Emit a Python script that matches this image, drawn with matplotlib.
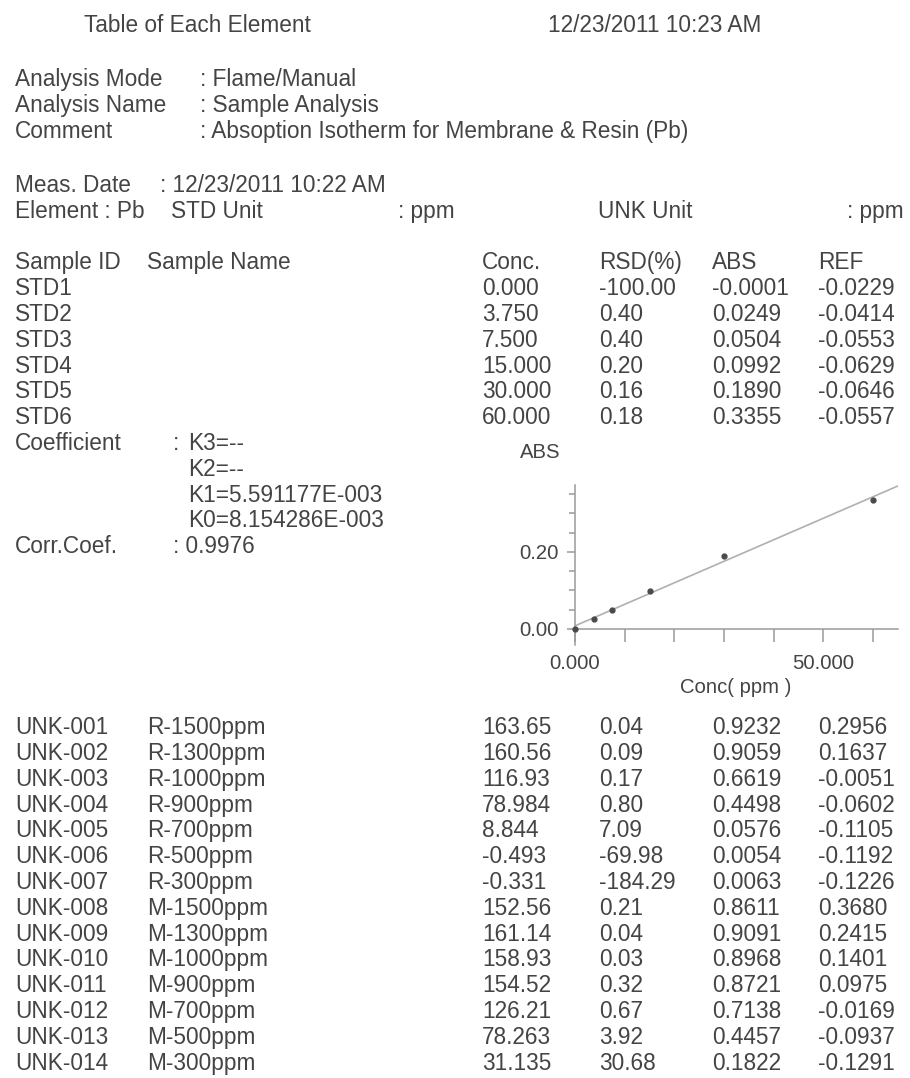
import matplotlib
matplotlib.use('Agg')
import matplotlib.pyplot as plt
from matplotlib.ticker import FixedLocator, FormatStrFormatter

# ---------------- data ----------------
title_left = 'Table of Each Element'
title_date = '12/23/2011 10:23 AM'
analysis_mode = 'Flame/Manual'
analysis_name = 'Sample Analysis'
comment = 'Absoption Isotherm for Membrane & Resin (Pb)'
meas_date = '12/23/2011 10:22 AM'
element = 'Pb'
std_unit = 'ppm'
unk_unit = 'ppm'

std_ids = ['STD1', 'STD2', 'STD3', 'STD4', 'STD5', 'STD6']
std_conc = [0.000, 3.750, 7.500, 15.000, 30.000, 60.000]
std_rsd = [-100.00, 0.40, 0.40, 0.20, 0.16, 0.18]
std_abs = [-0.0001, 0.0249, 0.0504, 0.0992, 0.1890, 0.3355]
std_ref = [-0.0229, -0.0414, -0.0553, -0.0629, -0.0646, -0.0557]

K1 = 5.591177e-3
K0 = 8.154286e-3
corr_coef = 0.9976

unk_ids = ['UNK-001', 'UNK-002', 'UNK-003', 'UNK-004', 'UNK-005', 'UNK-006', 'UNK-007',
           'UNK-008', 'UNK-009', 'UNK-010', 'UNK-011', 'UNK-012', 'UNK-013', 'UNK-014']
unk_names = ['R-1500ppm', 'R-1300ppm', 'R-1000ppm', 'R-900ppm', 'R-700ppm', 'R-500ppm', 'R-300ppm',
             'M-1500ppm', 'M-1300ppm', 'M-1000ppm', 'M-900ppm', 'M-700ppm', 'M-500ppm', 'M-300ppm']
unk_conc = [163.65, 160.56, 116.93, 78.984, 8.844, -0.493, -0.331,
            152.56, 161.14, 158.93, 154.52, 126.21, 78.263, 31.135]
unk_rsd = [0.04, 0.09, 0.17, 0.80, 7.09, -69.98, -184.29,
           0.21, 0.04, 0.03, 0.32, 0.67, 3.92, 30.68]
unk_abs = [0.9232, 0.9059, 0.6619, 0.4498, 0.0576, 0.0054, 0.0063,
           0.8611, 0.9091, 0.8968, 0.8721, 0.7138, 0.4457, 0.1822]
unk_ref = [0.2956, 0.1637, -0.0051, -0.0602, -0.1105, -0.1192, -0.1226,
           0.3680, 0.2415, 0.1401, 0.0975, -0.0169, -0.0937, -0.1291]

x_range = [0.0, 65.0]

# ---------------- layout ----------------
W, H, DPI = 910, 1078, 100
FONT = 'Liberation Sans'
FS = 16.3          # ~22.6 px
FS_CHART = 14.6    # ~20 px
TXT = '#444444'

fig = plt.figure(figsize=(W / DPI, H / DPI), dpi=DPI)
fig.patch.set_facecolor('white')


def put(x, yc, s, size=FS, ha='left'):
    px = size * DPI / 72.0
    fig.text(x / W, 1 - (yc + 0.358 * px) / H, s, ha=ha, va='baseline',
             fontsize=size, family=FONT, color=TXT)


def sci(v):
    m, e = f'{v:.6E}'.split('E')
    e = int(e)
    return f"{m}E{'-' if e < 0 else '+'}{abs(e):03d}"


def fconc(v):
    return f'{v:.2f}' if abs(v) >= 100 else f'{v:.3f}'


COL_CONC, COL_RSD, COL_ABS, COL_REF = 482, 599, 712, 818
COL_NAME = 147
LEFT = 15
PITCH = 25.8

put(84, 24, title_left)
put(548, 24, title_date)

put(LEFT, 78, 'Analysis Mode');  put(200, 78, ': ' + analysis_mode)
put(LEFT, 104, 'Analysis Name'); put(200, 104, ': ' + analysis_name)
put(LEFT, 130, 'Comment');       put(200, 130, ': ' + comment)

put(LEFT, 184, 'Meas. Date');    put(160, 184, ': ' + meas_date)
put(LEFT, 210, 'Element : ' + element)
put(171, 210, 'STD Unit');       put(398, 210, ': ' + std_unit)
put(598, 210, 'UNK Unit');       put(847, 210, ': ' + unk_unit)

y0 = 261
put(LEFT, y0, 'Sample ID'); put(COL_NAME, y0, 'Sample Name')
put(COL_CONC, y0, 'Conc.'); put(COL_RSD, y0, 'RSD(%)')
put(COL_ABS, y0, 'ABS');    put(COL_REF, y0, 'REF')

for i, sid in enumerate(std_ids):
    y = 287 + PITCH * i
    put(LEFT, y, sid)
    put(COL_CONC, y, f'{std_conc[i]:.3f}')
    put(COL_RSD, y, f'{std_rsd[i]:.2f}')
    put(COL_ABS, y, f'{std_abs[i]:.4f}')
    put(COL_REF, y, f'{std_ref[i]:.4f}')

yc = 287 + PITCH * 6
put(LEFT, yc, 'Coefficient'); put(173, yc, ':'); put(188, yc, 'K3=--')
put(188, yc + PITCH, 'K2=--')
put(188, yc + 2 * PITCH, 'K1=' + sci(K1))
put(188, yc + 3 * PITCH, 'K0=' + sci(K0))
put(LEFT, yc + 4 * PITCH, 'Corr.Coef.'); put(173, yc + 4 * PITCH, f': {corr_coef:.4f}')

for i, uid in enumerate(unk_ids):
    y = 726 + PITCH * i
    put(LEFT, y, uid)
    put(COL_NAME, y, unk_names[i])
    put(COL_CONC, y, fconc(unk_conc[i]))
    put(COL_RSD, y, f'{unk_rsd[i]:.2f}')
    put(COL_ABS, y, f'{unk_abs[i]:.4f}')
    put(COL_REF, y, f'{unk_ref[i]:.4f}')

# ---------------- calibration chart ----------------
AX_L, AX_R, AX_T, AX_B = 575, 898, 485, 645
ax = fig.add_axes([AX_L / W, 1 - AX_B / H, (AX_R - AX_L) / W, (AX_B - AX_T) / H])
ax.set_facecolor('none')
ax.set_xlim(*x_range)
ax.set_ylim(-0.0416, 0.374)

AXC = '#9a9a9a'
for s in ('top', 'right'):
    ax.spines[s].set_visible(False)
ax.spines['bottom'].set_position(('data', 0))
for s in ('left', 'bottom'):
    ax.spines[s].set_color(AXC)
    ax.spines[s].set_linewidth(1.1)

ax.xaxis.set_major_locator(FixedLocator([0, 50]))
ax.xaxis.set_minor_locator(FixedLocator([10, 20, 30, 40, 60]))
ax.xaxis.set_major_formatter(FormatStrFormatter('%.3f'))
ax.yaxis.set_major_locator(FixedLocator([0.0, 0.20]))
ax.yaxis.set_minor_locator(FixedLocator([0.05, 0.10, 0.15, 0.25, 0.30, 0.35]))
ax.yaxis.set_major_formatter(FormatStrFormatter('%.2f'))
ax.tick_params(axis='x', which='both', direction='out', length=9, width=1.1, color=AXC,
               labelsize=FS_CHART, labelcolor=TXT, pad=9)
ax.tick_params(axis='y', which='major', direction='out', length=6, width=1.1, color=AXC,
               labelsize=FS_CHART, labelcolor=TXT, pad=6)
ax.tick_params(axis='y', which='minor', direction='out', length=4, width=1.1, color=AXC)
for lab in ax.get_xticklabels() + ax.get_yticklabels():
    lab.set_family(FONT)

fit_y = [K1 * x + K0 for x in x_range]
ax.plot(x_range, fit_y, color='#b0b0b0', lw=1.2, zorder=2)
ax.plot(std_conc, std_abs, 'o', color='#4a4a4a', ms=3.5, zorder=3, clip_on=False)

put(520, 451, 'ABS', size=FS_CHART)
put(736, 686, 'Conc( ppm )', size=FS_CHART, ha='center')

fig.savefig('out.png', dpi=DPI, facecolor='white')
